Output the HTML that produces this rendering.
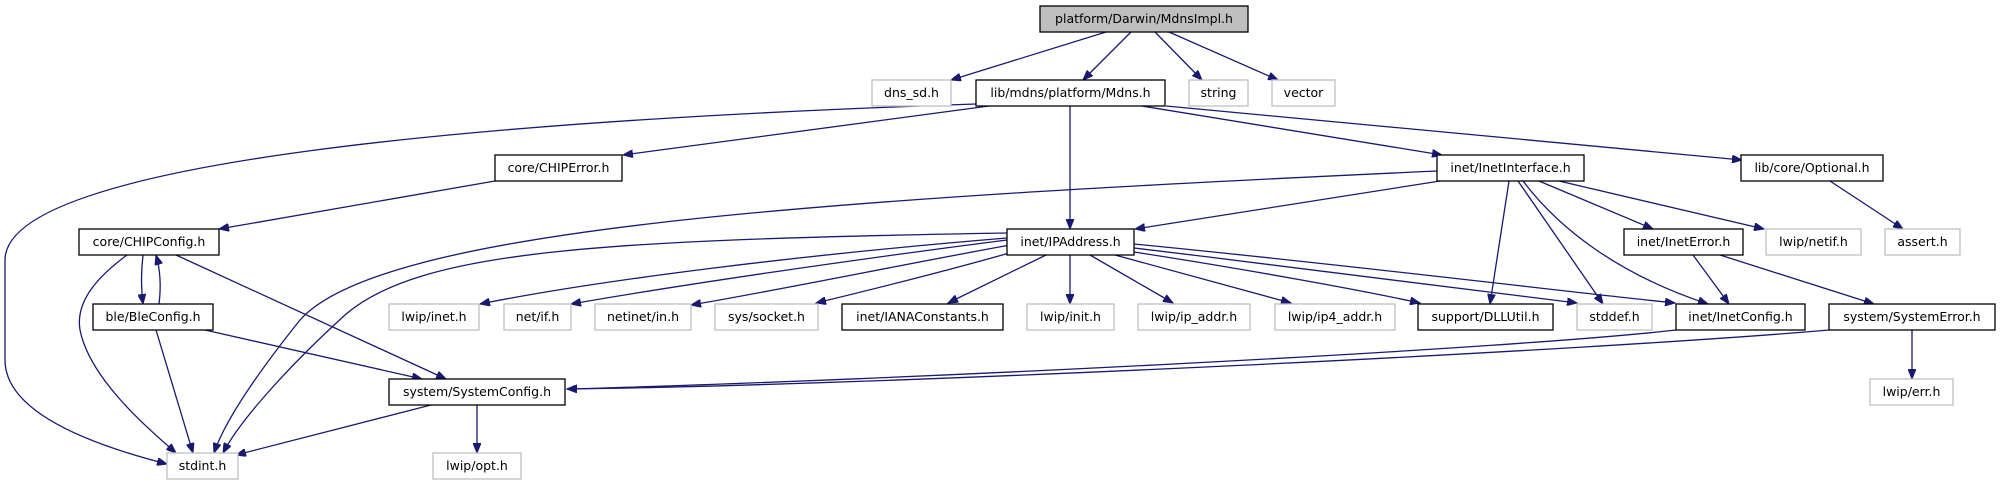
<!DOCTYPE html>
<html><head><meta charset="utf-8"><style>
html,body{margin:0;padding:0;background:#fff;}
svg{display:block;}
text{font-family:"DejaVu Sans","Liberation Sans",sans-serif;font-size:12.5px;fill:#000;}
.e{fill:none;stroke:#191970;stroke-width:1.3;}
.b{fill:#fff;stroke:#000;stroke-width:1.3;}
.g{fill:#fff;stroke:#bfbfbf;stroke-width:1.3;}
</style></head><body>
<svg width="2003" height="485" viewBox="0 0 2003 485" xmlns="http://www.w3.org/2000/svg">
<defs><marker id="a" markerUnits="userSpaceOnUse" markerWidth="11" markerHeight="8" refX="10" refY="4" orient="auto"><path d="M0,0 L10,4 L0,8 z" fill="#191970" stroke="#191970"/></marker></defs>
<g marker-end="url(#a)">
<path class="e" d="M1106,32 L951,80"/>
<path class="e" d="M1131,32 L1083,80"/>
<path class="e" d="M1155,32 L1202,80"/>
<path class="e" d="M1169,32 L1278,80"/>
<path class="e" d="M976,104 C500,120 5,160 5,260 L5,360 C5,420 120,452 167,464"/>
<path class="e" d="M989,106 L623,155"/>
<path class="e" d="M1070,106 L1070,229"/>
<path class="e" d="M1142,106 L1442,155"/>
<path class="e" d="M1166,106 L1742,160"/>
<path class="e" d="M495,181 L219,229"/>
<path class="e" d="M143,255 C141,272 141,288 143,304"/>
<path class="e" d="M159,304 C161,288 161,272 156,255"/>
<path class="e" d="M127,255 C100,275 75,300 80,330 C90,380 150,430 176,453"/>
<path class="e" d="M176,255 L446,379"/>
<path class="e" d="M156,330 L193,453"/>
<path class="e" d="M205,330 L422,379"/>
<path class="e" d="M431,405 L236,455"/>
<path class="e" d="M477,405 L477,453"/>
<path class="e" d="M1676,330 C1500,350 900,380 567,389"/>
<path class="e" d="M1829,330 C1600,350 900,385 567,389"/>
<path class="e" d="M1437,171 C800,200 380,230 300,320 C260,370 225,420 214,453"/>
<path class="e" d="M1007,233 C600,240 420,250 345,315 C290,365 240,420 223,453"/>
<path class="e" d="M1007,238 C800,255 600,280 480,304"/>
<path class="e" d="M1007,240 C850,260 680,285 571,304"/>
<path class="e" d="M1010,245 C900,265 780,290 691,305"/>
<path class="e" d="M1020,250 C950,270 870,290 816,303"/>
<path class="e" d="M1046,255 L948,303"/>
<path class="e" d="M1070,255 L1070,304"/>
<path class="e" d="M1090,255 L1173,303"/>
<path class="e" d="M1115,255 L1291,303"/>
<path class="e" d="M1134,252 C1250,270 1360,290 1420,303"/>
<path class="e" d="M1134,248 C1300,268 1480,290 1577,303"/>
<path class="e" d="M1134,244 C1350,265 1550,290 1675,303"/>
<path class="e" d="M1440,181 L1135,229"/>
<path class="e" d="M1509,181 L1490,304"/>
<path class="e" d="M1518,181 L1603,304"/>
<path class="e" d="M1523,181 C1560,230 1620,275 1708,304"/>
<path class="e" d="M1539,181 L1653,229"/>
<path class="e" d="M1559,181 L1764,229"/>
<path class="e" d="M1830,181 L1903,229"/>
<path class="e" d="M1693,255 L1729,304"/>
<path class="e" d="M1720,255 L1874,304"/>
<path class="e" d="M1912,330 L1912,379"/>
</g>
<rect x="1040" y="6" width="208" height="26" fill="#bfbfbf" stroke="#000" stroke-width="1.3"/><text x="1144" y="23" text-anchor="middle">platform/Darwin/MdnsImpl.h</text>
<rect class="g" x="872" y="80" width="79" height="26"/><text x="911.5" y="97" text-anchor="middle">dns_sd.h</text>
<rect class="b" x="976" y="80" width="189" height="26"/><text x="1070.5" y="97" text-anchor="middle">lib/mdns/platform/Mdns.h</text>
<rect class="g" x="1189" y="80" width="59" height="26"/><text x="1218.5" y="97" text-anchor="middle">string</text>
<rect class="g" x="1272" y="80" width="63" height="26"/><text x="1303.5" y="97" text-anchor="middle">vector</text>
<rect class="b" x="495" y="155" width="127" height="26"/><text x="558.5" y="172" text-anchor="middle">core/CHIPError.h</text>
<rect class="b" x="1437" y="155" width="147" height="26"/><text x="1510.5" y="172" text-anchor="middle">inet/InetInterface.h</text>
<rect class="b" x="1741" y="155" width="142" height="26"/><text x="1812" y="172" text-anchor="middle">lib/core/Optional.h</text>
<rect class="b" x="79" y="229" width="140" height="26"/><text x="149" y="246" text-anchor="middle">core/CHIPConfig.h</text>
<rect class="b" x="1007" y="229" width="127" height="26"/><text x="1070.5" y="246" text-anchor="middle">inet/IPAddress.h</text>
<rect class="b" x="1624" y="229" width="119" height="26"/><text x="1683.5" y="246" text-anchor="middle">inet/InetError.h</text>
<rect class="g" x="1766" y="229" width="95" height="26"/><text x="1813.5" y="246" text-anchor="middle">lwip/netif.h</text>
<rect class="g" x="1885" y="229" width="75" height="26"/><text x="1922.5" y="246" text-anchor="middle">assert.h</text>
<rect class="b" x="93" y="304" width="120" height="26"/><text x="153" y="321" text-anchor="middle">ble/BleConfig.h</text>
<rect class="g" x="389" y="304" width="90" height="26"/><text x="434" y="321" text-anchor="middle">lwip/inet.h</text>
<rect class="g" x="504" y="304" width="67" height="26"/><text x="537.5" y="321" text-anchor="middle">net/if.h</text>
<rect class="g" x="595" y="304" width="96" height="26"/><text x="643" y="321" text-anchor="middle">netinet/in.h</text>
<rect class="g" x="715" y="304" width="103" height="26"/><text x="766.5" y="321" text-anchor="middle">sys/socket.h</text>
<rect class="b" x="842" y="304" width="161" height="26"/><text x="922.5" y="321" text-anchor="middle">inet/IANAConstants.h</text>
<rect class="g" x="1027" y="304" width="87" height="26"/><text x="1070.5" y="321" text-anchor="middle">lwip/init.h</text>
<rect class="g" x="1138" y="304" width="112" height="26"/><text x="1194" y="321" text-anchor="middle">lwip/ip_addr.h</text>
<rect class="g" x="1275" y="304" width="120" height="26"/><text x="1335" y="321" text-anchor="middle">lwip/ip4_addr.h</text>
<rect class="b" x="1418" y="304" width="135" height="26"/><text x="1485.5" y="321" text-anchor="middle">support/DLLUtil.h</text>
<rect class="g" x="1577" y="304" width="75" height="26"/><text x="1614.5" y="321" text-anchor="middle">stddef.h</text>
<rect class="b" x="1676" y="304" width="129" height="26"/><text x="1740.5" y="321" text-anchor="middle">inet/InetConfig.h</text>
<rect class="b" x="1829" y="304" width="166" height="26"/><text x="1912" y="321" text-anchor="middle">system/SystemError.h</text>
<rect class="b" x="389" y="379" width="176" height="26"/><text x="477" y="396" text-anchor="middle">system/SystemConfig.h</text>
<rect class="g" x="1870" y="379" width="83" height="26"/><text x="1911.5" y="396" text-anchor="middle">lwip/err.h</text>
<rect class="g" x="167" y="453" width="71" height="26"/><text x="202.5" y="470" text-anchor="middle">stdint.h</text>
<rect class="g" x="433" y="453" width="88" height="26"/><text x="477" y="470" text-anchor="middle">lwip/opt.h</text>
</svg>
</body></html>
